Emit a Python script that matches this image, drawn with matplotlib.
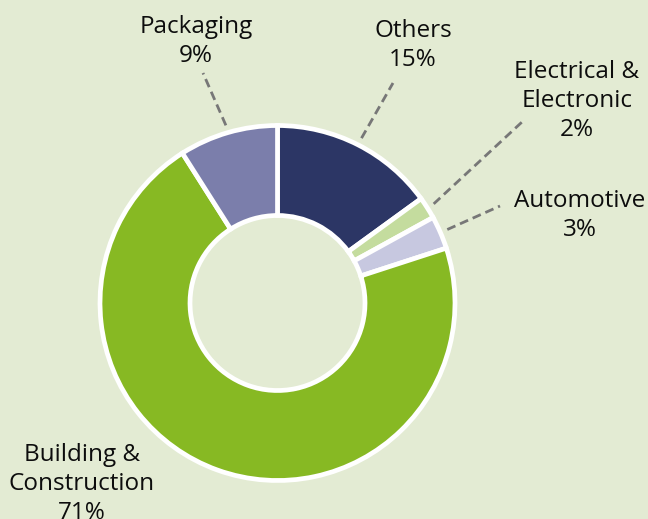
import matplotlib
matplotlib.use('Agg')
import matplotlib.pyplot as plt
import numpy as np

# sector shares, clockwise from 12 o'clock
labels = ['Others', 'Electrical &\nElectronic', 'Automotive', 'Building &\nConstruction', 'Packaging']
shares = [15, 2, 3, 71, 9]
colors = ['#2c3665', '#c4dc9e', '#c7c8e0', '#87b923', '#7b7eab']

# label anchor (centre x, first baseline y) in image pixels, and leader end points
label_pos = [(413, 37), (577, 78), (580, 207), (82, 461), (196, 33)]
leader_end = [(393, 83), (522, 122), (500, 206), None, (203, 73)]

W, H = 648, 519
bg = '#e3ebd3'
cx, cy = 277.5, 303
r_out, ring = 177.5, 90

plt.rcParams['font.family'] = ['Open Sans', 'DejaVu Sans']

fig = plt.figure(figsize=(W / 100, H / 100), dpi=100, facecolor=bg)
ax = fig.add_axes([0, 0, 1, 1])
ax.set_facecolor(bg)

ax.pie(shares, colors=colors, startangle=90, counterclock=False,
       radius=r_out, center=(cx, H - cy),
       wedgeprops=dict(width=ring, edgecolor='white', linewidth=3.4))

ax.set_xlim(0, W)
ax.set_ylim(0, H)
ax.set_aspect('equal')
ax.axis('off')

# leader lines, from just outside the ring at the wedge's mid angle
start = 90.0
for i, s in enumerate(shares):
    mid = np.deg2rad(start - s * 3.6 / 2)
    start -= s * 3.6
    if leader_end[i] is None:
        continue
    x0 = cx + 185 * np.cos(mid)
    y0 = (H - cy) + 185 * np.sin(mid)
    x1, y1 = leader_end[i]
    ax.plot([x0, x1], [y0, H - y1], color='#777777', lw=2.0, ls=(0, (3.2, 1.8)))

for i, lab in enumerate(labels):
    lines = lab.split('\n') + ['%d%%' % shares[i]]
    x, y = label_pos[i]
    for k, line in enumerate(lines):
        ax.text(x, H - (y + 29 * k), line, ha='center', va='baseline',
                fontsize=17.5, color='#0d0d0d')

fig.savefig('out.png', dpi=100, facecolor=bg)
